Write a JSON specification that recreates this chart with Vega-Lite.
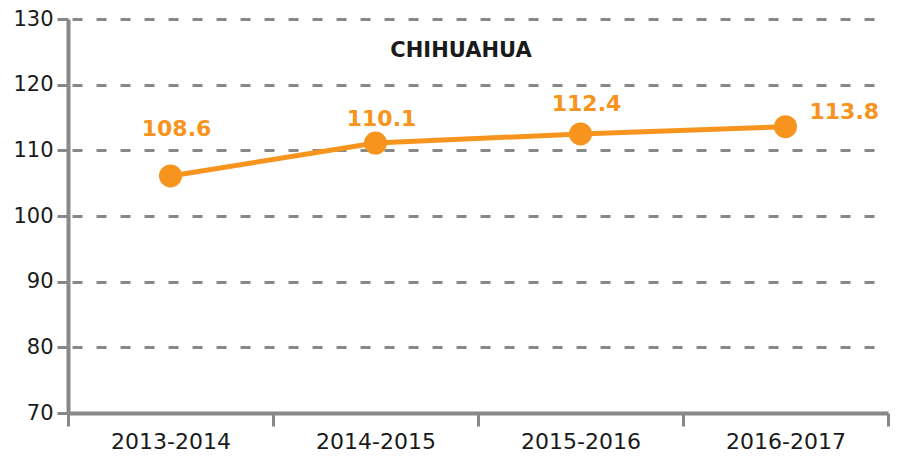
{
  "$schema": "https://vega.github.io/schema/vega-lite/v6.json",
  "width": 820,
  "height": 394,
  "autosize": {"type": "none"},
  "padding": {"left": 68, "top": 19, "right": 10, "bottom": 43},
  "background": "white",
  "view": {"stroke": null},
  "title": {
    "text": "CHIHUAHUA",
    "anchor": "middle",
    "frame": "group",
    "offset": -53,
    "dx": -17,
    "font": "DejaVu Sans",
    "fontSize": 21,
    "fontWeight": "bold",
    "color": "#1a1a1a"
  },
  "data": {
    "values": [
      {"periodo": "2013-2014", "valor": 106.1, "etiqueta": 108.6},
      {"periodo": "2014-2015", "valor": 111.1, "etiqueta": 110.1},
      {"periodo": "2015-2016", "valor": 112.5, "etiqueta": 112.4},
      {"periodo": "2016-2017", "valor": 113.6, "etiqueta": 113.8}
    ]
  },
  "encoding": {
    "x": {
      "field": "periodo",
      "type": "nominal",
      "sort": null,
      "scale": {"type": "band", "paddingInner": 0, "paddingOuter": 0},
      "axis": {
        "title": null,
        "tickBand": "extent",
        "labelAngle": 0,
        "domainColor": "#888888",
        "domainWidth": 4,
        "tickColor": "#888888",
        "tickWidth": 3,
        "tickSize": 13,
        "labelFont": "DejaVu Sans",
        "labelFontSize": 22,
        "labelColor": "#1a1a1a",
        "labelPadding": 5,
        "grid": false
      }
    },
    "y": {
      "field": "valor",
      "type": "quantitative",
      "scale": {"domain": [70, 130], "nice": false, "zero": false},
      "axis": {
        "title": null,
        "values": [70, 80, 90, 100, 110, 120, 130],
        "domainColor": "#888888",
        "domainWidth": 4,
        "tickColor": "#888888",
        "tickWidth": 3,
        "tickSize": 11,
        "labelFont": "DejaVu Sans",
        "labelFontSize": 21,
        "labelColor": "#1a1a1a",
        "labelPadding": 4,
        "grid": true,
        "gridColor": "#888888",
        "gridWidth": 3,
        "gridDash": [10, 14],
        "gridDashOffset": -28,
        "gridOpacity": {"condition": {"test": "datum.value === 70", "value": 0}, "value": 1}
      }
    }
  },
  "layer": [
    {"mark": {"type": "line", "color": "#F7941D", "strokeWidth": 5}},
    {"mark": {"type": "point", "filled": true, "opacity": 1, "size": 530, "color": "#F7941D"}},
    {
      "transform": [{"filter": "datum.periodo !== '2016-2017'"}],
      "mark": {"type": "text", "font": "DejaVu Sans", "fontWeight": "bold", "fontSize": 22, "color": "#F7941D", "dy": -31, "dx": 6},
      "encoding": {
        "y": {"field": "etiqueta", "type": "quantitative", "axis": {"title": null}},
        "text": {"field": "etiqueta", "type": "quantitative", "format": ".1f"}
      }
    },
    {
      "transform": [{"filter": "datum.periodo === '2016-2017'"}],
      "mark": {"type": "text", "font": "DejaVu Sans", "fontWeight": "bold", "fontSize": 22, "color": "#F7941D", "align": "left", "dy": -13, "dx": 24},
      "encoding": {
        "y": {"field": "etiqueta", "type": "quantitative", "axis": {"title": null}},
        "text": {"field": "etiqueta", "type": "quantitative", "format": ".1f"}
      }
    }
  ]
}
